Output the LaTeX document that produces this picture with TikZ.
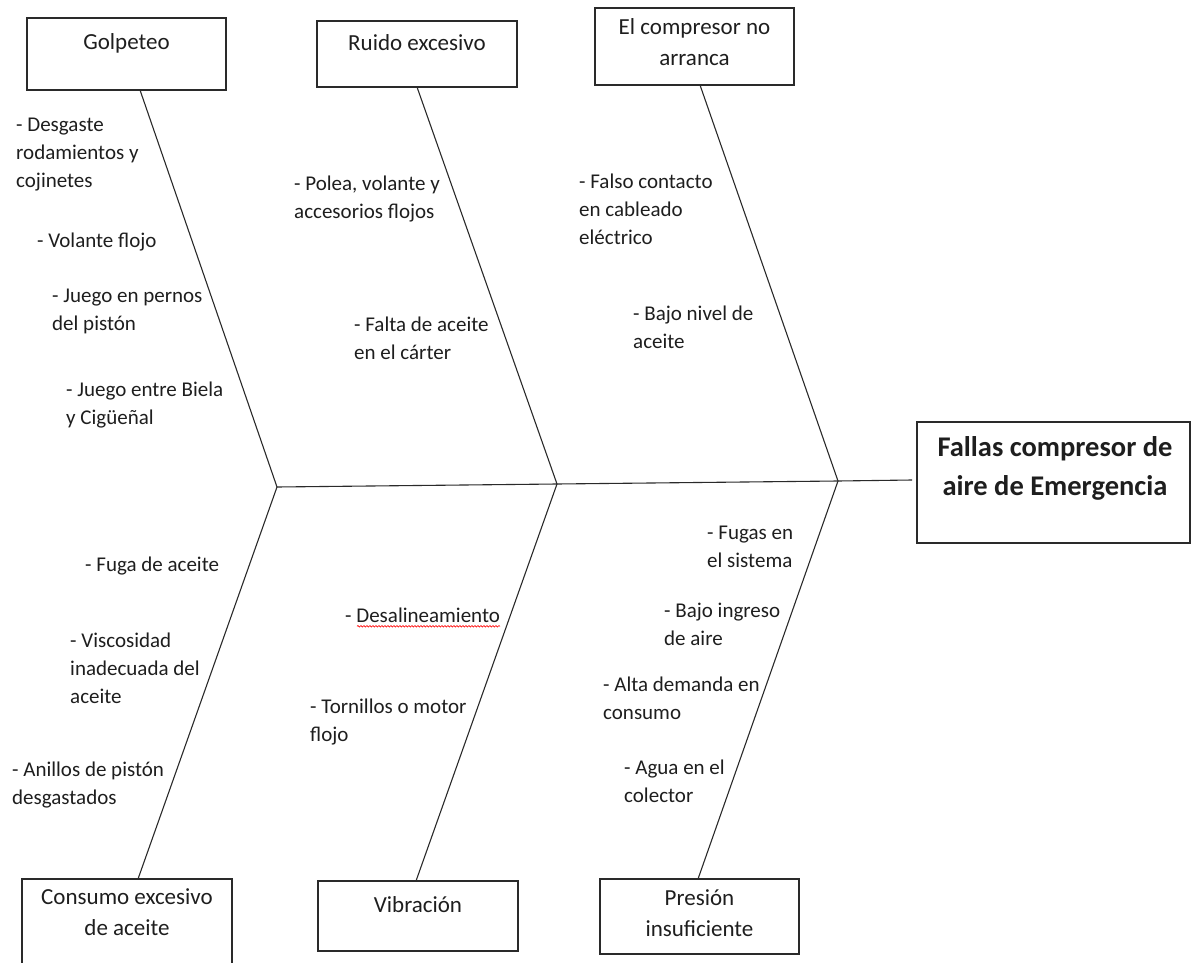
\documentclass[tikz,border=0pt]{standalone}
\usepackage{fontspec}
\setmainfont{Carlito}
\usetikzlibrary{calc,decorations.pathmorphing}
\definecolor{ink}{HTML}{1E1E1E}
\definecolor{lineink}{HTML}{2A2A2A}
\begin{document}
\begin{tikzpicture}[x=1pt,y=-1pt,
  boxshape/.style={draw=lineink,line width=1.2pt,rectangle,inner sep=0pt,outer sep=0pt},
  boxtext/.style={anchor=north,align=center,inner sep=0pt,text=ink,
    font=\fontsize{23}{31}\selectfont,execute at begin node=\strut},
  maintext/.style={anchor=north,align=center,inner sep=0pt,text=ink,
    font=\fontsize{28.5}{39}\selectfont\bfseries,execute at begin node=\strut},
  cause/.style={anchor=north west,align=left,inner sep=0pt,text=ink,
    font=\fontsize{21}{28}\selectfont,execute at begin node=\strut},
  bone/.style={draw=lineink,line width=1.1pt}]
\useasboundingbox (0,0) rectangle (1192,963);

% boxes
\node[boxshape,minimum width=199,minimum height=72] (golpeteo) at (126.5,54) {};
\node[boxshape,minimum width=200,minimum height=66] (ruido) at (417,54) {};
\node[boxshape,minimum width=199,minimum height=77] (compresor) at (694.5,46.5) {};
\node[boxshape,minimum width=273,minimum height=121] (main) at (1053.5,482.5) {};
\node[boxshape,minimum width=210,minimum height=96] (consumo) at (127,927) {};
\node[boxshape,minimum width=200,minimum height=70] (vibracion) at (418,916) {};
\node[boxshape,minimum width=199,minimum height=75] (presion) at (699.5,916.5) {};

% box texts
\node[boxtext] (tgolpeteo) at (126.5,28) {Golpeteo};
\node[boxtext] (truido) at (417,29) {Ruido excesivo};
\node[boxtext] (tcompresor) at (694.5,18.5) {El compresor no\\arranca};
\node[maintext] (tmain) at (1055,436) {Fallas compresor de\\aire de Emergencia};
\node[boxtext] (tconsumo) at (127,888.5) {Consumo excesivo\\de aceite};
\node[boxtext] (tvibracion) at (418,890.5) {Vibración};
\node[boxtext] (tpresion) at (699.5,889.5) {Presión\\insuficiente};

% spine junctions
\coordinate (j1) at (277,487);
\coordinate (j2) at (557,484);
\coordinate (j3) at (838,481);
\coordinate (spineend) at (912,480);

\draw[bone] (j1) -- (j2) -- (j3) -- (spineend);
\draw[bone] ($(golpeteo.south)+(13.5,0)$) -- (j1);
\draw[bone] (ruido.south) -- (j2);
\draw[bone] ($(compresor.south)+(5.5,0)$) -- (j3);
\draw[bone] ($(consumo.north)+(11,0)$) -- (j1);
\draw[bone] ($(vibracion.north)+(-2,0)$) -- (j2);
\draw[bone] ($(presion.north)+(-1.5,0)$) -- (j3);

% causes
\node[cause] (desgaste) at (16,118) {- Desgaste\\rodamientos y\\cojinetes};
\node[cause] (volante) at (37,228) {- Volante flojo};
\node[cause] (pernos) at (52,289) {- Juego en pernos\\del pistón};
\node[cause] (biela) at (66,382) {- Juego entre Biela\\y Cigüeñal};
\node[cause] (polea) at (294,176) {- Polea, volante y\\accesorios flojos};
\node[cause] (falta) at (354,317) {- Falta de aceite\\en el cárter};
\node[cause] (falso) at (579,174) {- Falso contacto\\en cableado\\eléctrico};
\node[cause] (bajonivel) at (633,306) {- Bajo nivel de\\aceite};
\node[cause] (fuga) at (85,552) {- Fuga de aceite};
\node[cause] (viscosidad) at (70,633) {- Viscosidad\\inadecuada del\\aceite};
\node[cause] (anillos) at (12,762) {- Anillos de pistón\\desgastados};
\node[cause] (desal) at (345,603) {- Desalineamiento};
\node[cause] (tornillos) at (310,699) {- Tornillos o motor\\flojo};
\node[cause] (fugas) at (707,526) {- Fugas en\\el sistema};
\node[cause] (bajoingreso) at (664,603) {- Bajo ingreso\\de aire};
\node[cause] (alta) at (603,677) {- Alta demanda en\\consumo};
\node[cause] (agua) at (624,760) {- Agua en el\\colector};

% spell-check squiggle
\draw[red,line width=0.6pt,decorate,decoration={snake,amplitude=0.8pt,segment length=3pt}]
  ($(desal.base west)+(12,3.5)$) -- ($(desal.base east)+(0,3.5)$);
\end{tikzpicture}
\end{document}
